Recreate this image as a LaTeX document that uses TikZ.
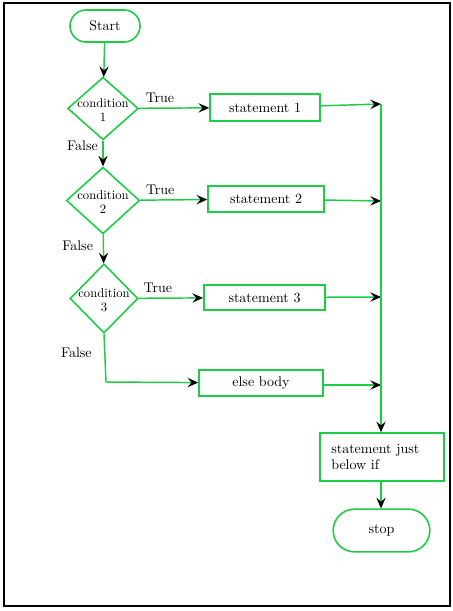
\documentclass[tikz,border=0pt]{standalone}
\usetikzlibrary{shapes.geometric,arrows.meta}
\definecolor{fg}{RGB}{30,205,70}
\begin{document}
\begin{tikzpicture}[x=0.75pt,y=-0.75pt,
  every node/.style={font=\fontsize{10.5}{12.5}\selectfont},
  term/.style={draw=fg,line width=1.2pt,rectangle,inner sep=0pt},
  proc/.style={draw=fg,line width=1.2pt,rectangle,inner sep=0pt},
  dec/.style={draw=fg,line width=1.2pt,diamond,inner sep=0pt},
  ctext/.style={font=\fontsize{9.5}{10.5}\selectfont,align=center,yshift=-1.5pt},
  lbl/.style={font=\fontsize{10.5}{12.5}\selectfont},
  conn/.style={draw=fg,line width=1.1pt,-{Stealth[black,length=8pt,width=7pt,inset=3pt]}},
  line/.style={draw=fg,line width=1.1pt}]
\useasboundingbox (0,0) rectangle (453,611);
\draw[line width=1.8pt,black] (4,3) rectangle (450,606);

\node[term,rounded corners=12pt,minimum width=52.5pt,minimum height=24pt] (start) at (105,26) {Start};
\node[dec,minimum width=53pt,minimum height=47pt,label={[ctext]center:condition\\1}] (d1) at (103,108.5) {};
\node[dec,minimum width=55pt,minimum height=50pt,label={[ctext]center:condition\\2}] (d2) at (103,200.5) {};
\node[dec,minimum width=51pt,minimum height=52pt,label={[ctext]center:condition\\3}] (d3) at (104,298.5) {};

\node[proc,minimum width=82.5pt,minimum height=20pt] (s1) at (265,107.5) {statement 1};
\node[proc,minimum width=87pt,minimum height=19.5pt] (s2) at (266,199) {statement 2};
\node[proc,minimum width=91pt,minimum height=19pt] (s3) at (264.5,297.5) {statement 3};
\node[proc,minimum width=93pt,minimum height=19.5pt] (eb) at (261,383) {else body};
\node[proc,minimum width=93pt,minimum height=36pt,align=left,text width=76pt] (sb) at (382,457) {statement just\\below if};
\node[term,rounded corners=16pt,minimum width=72.5pt,minimum height=32pt] (stop) at (381.5,530.5) {stop};

\coordinate (m1) at (381,104);
\coordinate (m2) at (381,201);
\coordinate (m3) at (381,297);
\coordinate (m4) at (381,385);
\coordinate (c3) at (106,382);

\draw[conn] (start) -- (d1);
\draw[conn] (d1) -- node[lbl,above,pos=0.3] {True} (s1);
\draw[conn] (d1) -- node[lbl,left,pos=0.2] {False} (d2);
\draw[conn] (d2) -- node[lbl,above,pos=0.3] {True} (s2);
\draw[conn] (d2) -- node[lbl,left,pos=0.4,xshift=-4pt] {False} (d3);
\draw[conn] (d3) -- node[lbl,above,pos=0.3] {True} (s3);
\draw[line] (d3.south) -- node[lbl,left,pos=0.4,xshift=-6pt] {False} (c3);
\draw[conn] (c3) -- (eb);
\draw[conn] (s1) -- (m1);
\draw[conn] (s2) -- (m2);
\draw[conn] (s3) -- (m3);
\draw[conn] (eb.east|-m4) -- (m4);
\draw[conn] (m1) -- (sb.north-|m1);
\draw[conn] (sb.south-|m1) -- (stop.north-|m1);
\end{tikzpicture}
\end{document}
